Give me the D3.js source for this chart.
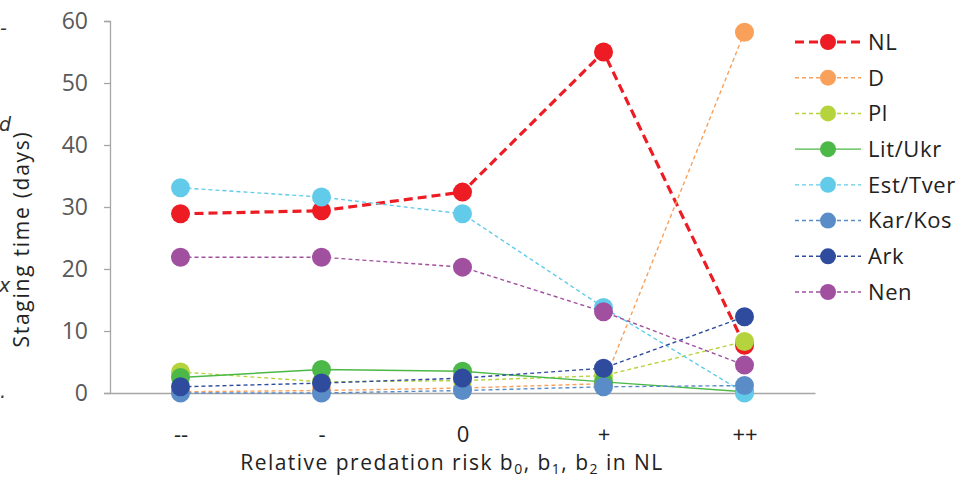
<!DOCTYPE html>
<html>
<head>
<meta charset="utf-8">
<script src="https://cdn.jsdelivr.net/npm/d3@7"></script>
<style>
  html, body { margin: 0; padding: 0; background: #fff; }
  svg { display: block; font-family: "Open Sans", Lato, sans-serif; }
</style>
</head>
<body>
<svg id="chart" width="976" height="479"></svg>
<script>
// ---- data ----
const categories = ["--", "-", "0", "+", "++"];
const seriesNames = ["NL", "D", "Pl", "Lit/Ukr", "Est/Tver", "Kar/Kos", "Ark", "Nen"];
const NL      = [28.9, 29.4, 32.4, 55.0, 7.7];
const D       = [0.2, 0.4, 0.8, 1.5, 58.2];
const Pl      = [3.4, 1.8, 2.0, 2.8, 8.3];
const LitUkr  = [2.5, 3.8, 3.5, 1.8, 0.2];
const EstTver = [33.1, 31.6, 28.9, 13.8, 0.0];
const KarKos  = [0.0, 0.0, 0.4, 1.0, 1.2];
const Ark     = [1.0, 1.6, 2.4, 4.0, 12.3];
const Nen     = [21.9, 21.9, 20.3, 13.1, 4.5];
const yTicks  = [0, 10, 20, 30, 40, 50, 60];
const colors  = ["#ED1C24", "#F9A05A", "#B5D33D", "#4CB848", "#62CBEA", "#5A8CC8", "#2E4B9E", "#A0509F"];

const seriesValues = [NL, D, Pl, LitUkr, EstTver, KarKos, Ark, Nen];
const series = seriesNames.map((name, i) => ({
  name, values: seriesValues[i], color: colors[i],
  width: i === 0 ? 3.2 : 1.4,
  dash: i === 0 ? "9,5" : (i === 3 ? null : "4,3")
}));

// ---- layout ----
const svg = d3.select("#chart");
const plot = { left: 110, right: 815, top: 21, bottom: 393 };

const x = d3.scalePoint().domain(categories).range([plot.left, plot.right]).padding(0.5);
const y = d3.scaleLinear().domain([0, 60]).range([plot.bottom, plot.top]);

// stretch a text to a target width via letter-spacing
function fitWidth(sel, target) {
  const node = sel.node();
  const w = node.getComputedTextLength();
  const n = node.textContent.length;
  sel.attr("letter-spacing", ((target - w) / n).toFixed(2));
}

// stray text fragments at the left edge
const frag = svg.append("g").attr("fill", "#333")
  .attr("font-family", "'DejaVu Sans', sans-serif").attr("font-size", 19).attr("font-style", "italic");
frag.append("text").attr("x", 0).attr("y", 35).text("-");
frag.append("text").attr("x", -1).attr("y", 131).text("d");
frag.append("text").attr("x", -1).attr("y", 292).text("x");
frag.append("text").attr("x", 0).attr("y", 398).text(".");

// y axis
const yAxis = svg.append("g")
  .attr("transform", `translate(${plot.left},0)`)
  .call(d3.axisLeft(y).tickValues(yTicks).tickSize(6).tickPadding(16));
yAxis.select(".domain").attr("stroke", "#a6a6a6").attr("stroke-width", 1.3);
yAxis.selectAll(".tick line").attr("stroke", "#a6a6a6").attr("stroke-width", 1.3);
yAxis.selectAll(".tick text").attr("fill", "#595959").attr("font-size", 23)
  .attr("font-family", "'Open Sans', sans-serif");

// x axis line (no ticks)
const xAxis = svg.append("g")
  .attr("transform", `translate(0,${plot.bottom})`)
  .call(d3.axisBottom(x).tickSize(0).tickPadding(33));
xAxis.select(".domain").attr("stroke", "#a6a6a6").attr("stroke-width", 1.3);
xAxis.selectAll(".tick text").attr("fill", "#222").attr("font-size", 22)
  .attr("font-family", "'Open Sans', sans-serif");

// axis titles
const yt = svg.append("text")
  .attr("transform", `translate(29,${(plot.top + plot.bottom) / 2 + 32}) rotate(-90)`)
  .attr("text-anchor", "middle").attr("font-size", 21).attr("fill", "#222")
  .text("Staging time (days)");
fitWidth(yt, 217);

const xt = svg.append("text")
  .attr("x", 452).attr("y", 470).attr("text-anchor", "middle")
  .attr("font-size", 21).attr("fill", "#222");
xt.append("tspan").text("Relative  predation risk b");
xt.append("tspan").attr("font-size", 14).attr("dy", 4).text("0");
xt.append("tspan").attr("dy", -4).text(", b");
xt.append("tspan").attr("font-size", 14).attr("dy", 4).text("1");
xt.append("tspan").attr("dy", -4).text(", b");
xt.append("tspan").attr("font-size", 14).attr("dy", 4).text("2");
xt.append("tspan").attr("dy", -4).text(" in NL");
fitWidth(xt, 425);

// series
const line = d3.line().x((d, i) => x(categories[i])).y(d => y(d));
const r = 9.5;
series.forEach(s => {
  const g = svg.append("g");
  g.append("path").datum(s.values)
    .attr("d", line).attr("fill", "none")
    .attr("stroke", s.color).attr("stroke-width", s.width)
    .attr("stroke-dasharray", s.dash);
  g.selectAll("circle").data(s.values).join("circle")
    .attr("cx", (d, i) => x(categories[i])).attr("cy", d => y(d))
    .attr("r", r).attr("fill", s.color);
});

// legend
const leg = svg.append("g");
const legY = d3.scalePoint().domain(seriesNames).range([42, 292]);
series.forEach(s => {
  const yy = legY(s.name);
  leg.append("line").attr("x1", 795).attr("x2", 861).attr("y1", yy).attr("y2", yy)
    .attr("stroke", s.color).attr("stroke-width", s.width).attr("stroke-dasharray", s.dash);
  leg.append("circle").attr("cx", 828).attr("cy", yy).attr("r", 8).attr("fill", s.color);
  leg.append("text").attr("x", 868).attr("y", yy).attr("dy", "0.36em")
    .attr("font-size", 22).attr("letter-spacing", 0.6).attr("fill", "#222").text(s.name);
});
</script>
</body>
</html>
